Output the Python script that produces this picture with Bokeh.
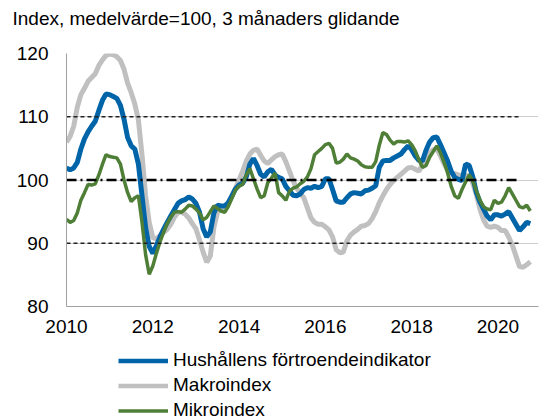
from bokeh.plotting import figure
from bokeh.layouts import column
from bokeh.models import Range1d, FixedTicker, Legend, LegendItem, Title
from bokeh.embed import file_html
from bokeh.resources import INLINE

title_text = "Index, medelvärde=100, 3 månaders glidande"
start_year = 2010
x_ticks = [2010, 2012, 2014, 2016, 2018, 2020]
y_ticks = [80, 90, 100, 110, 120]

hushall = [101.9, 101.6, 101.9, 102.8, 104.9, 106.5, 107.6, 108.5, 109.3, 111.0,
           112.6, 113.6, 113.5, 113.2, 112.9, 111.8, 109.6, 106.7, 105.4, 104.9,
           102.5, 97.5, 92.5, 89.5, 88.4, 89.6, 91.0, 92.2, 93.3, 94.3,
           95.3, 96.3, 96.7, 96.9, 97.3, 97.0, 96.3, 94.9, 92.3, 91.0,
           91.8, 94.8, 96.0, 95.9, 95.9, 96.4, 97.5, 98.6, 99.2, 99.5,
           100.5, 102.5, 103.4, 102.3, 100.9, 100.5, 101.3, 101.7, 100.8, 100.4,
           100.2, 99.0, 98.3, 97.6, 97.5, 97.8, 98.5, 98.8, 98.7, 99.0,
           98.8, 99.0, 100.2, 100.2, 98.5, 96.7, 96.5, 96.5, 97.2, 97.8,
           98.0, 97.9, 97.8, 98.3, 98.4, 98.7, 99.1, 102.0, 103.0, 103.1,
           103.1, 103.5, 103.8, 104.1, 104.8, 105.4, 104.8, 103.8, 103.1, 103.0,
           104.7, 106.0, 106.7, 106.8, 105.6, 104.3, 103.0, 101.4, 100.4, 100.1,
           99.9, 102.5, 102.3, 100.5, 98.0, 96.5, 95.4, 94.3, 93.7, 94.5,
           94.5, 94.3, 94.6, 95.0, 94.0, 93.0, 92.0, 92.6, 93.3, 93.1]

makro = [106.0, 106.9, 108.5, 111.5, 113.5, 114.5, 115.6, 116.2, 116.8, 118.1,
         119.0, 119.7, 119.9, 119.8, 119.5, 118.9, 117.5, 115.3, 113.8, 112.0,
         109.5, 104.0, 97.5, 93.3, 90.9, 90.7, 91.2, 91.7, 92.2, 93.0,
         94.1, 94.9, 94.9, 94.6, 94.0, 93.1, 92.3, 90.5, 88.6, 87.0,
         88.0, 92.5, 94.9, 95.3, 95.7, 96.4, 97.5, 98.7, 100.0, 101.4,
         103.0, 104.1, 104.7, 104.9, 103.9, 103.0, 102.6, 103.2, 103.7, 104.0,
         104.1, 102.9, 101.4, 99.9, 98.7, 98.0, 97.2, 95.6, 94.0, 93.3,
         93.0, 93.0, 92.6, 92.1, 91.0, 89.0, 88.5, 88.6, 90.4, 91.3,
         91.8, 92.2, 92.7, 92.8, 93.1, 93.9, 95.0, 96.4, 97.5, 98.5,
         99.3, 99.9, 100.4, 100.9, 101.4, 101.9, 102.0, 101.7, 101.4, 102.4,
         103.6, 104.3, 104.8, 104.9, 103.8, 102.6, 101.6, 101.1, 101.0, 100.8,
         100.7, 100.7, 100.7, 99.5, 97.7, 95.4, 93.7, 92.7, 92.5, 92.7,
         92.5, 92.0, 92.0, 91.0, 89.7, 88.0, 86.3, 86.2, 86.6, 87.1]

mikro = [93.8, 93.3, 93.6, 94.8, 96.8, 98.0, 99.3, 99.2, 99.4, 100.8,
         102.5, 104.0, 103.7, 103.6, 103.5, 102.5, 100.0, 98.0, 96.6, 97.2,
         97.5, 93.3, 88.2, 85.1, 86.4, 88.4, 90.2, 91.7, 93.1, 94.1,
         94.9, 95.0, 94.9, 95.4, 96.0, 95.9, 95.4, 94.8, 93.7, 94.1,
         95.0, 95.9, 95.5, 95.1, 94.9, 95.8, 97.1, 98.4, 99.0, 99.3,
         100.8, 101.8, 100.2, 98.6, 97.2, 97.5, 99.6, 100.3, 101.1, 98.0,
         97.5, 96.8, 98.2, 98.7, 98.9, 99.4, 99.8, 100.5, 101.8, 104.0,
         104.5, 105.0, 105.6, 105.8, 105.0, 102.7, 102.8, 103.3, 104.1, 103.5,
         103.3, 103.0, 102.4, 102.1, 102.0, 102.0, 102.9, 105.5, 107.5, 107.2,
         106.3, 105.7, 106.1, 106.1, 106.0, 106.2, 105.6, 104.6, 103.2, 102.0,
         102.3, 103.6, 104.5, 105.4, 104.3, 102.8, 101.1, 99.0, 97.5, 97.1,
         98.5, 99.7, 100.8, 99.9, 98.3, 96.8, 95.8, 95.4, 95.3, 96.8,
         96.3, 96.5, 97.5, 98.8, 97.8, 96.8, 95.8, 95.6, 96.0, 95.1]

series_names = ["Hushållens förtroendeindikator", "Makroindex", "Mikroindex"]
ref_levels = [90, 100, 110]
ref_end = 2020.5

months = [start_year + i / 12 for i in range(len(hushall))]

FONT = "Liberation Sans"
FS = "19px"
C_BLUE, C_GREY, C_GREEN = "#0064a8", "#c0c0c0", "#4f7f37"


def blank_panel(height):
    f = figure(width=548, height=height, output_backend="svg", toolbar_location=None,
               x_range=Range1d(0, 1), y_range=Range1d(0, 1),
               x_axis_location=None, y_axis_location=None, min_border=0)
    f.outline_line_color = None
    f.xgrid.visible = False
    f.ygrid.visible = False
    return f


# title strip
pt = blank_panel(41)
pt.title = Title(text=title_text, align="left", offset=-54, vertical_align="top",
                 text_font=FONT, text_font_size=FS,
                 text_font_style="normal", text_color="#000000", standoff=15)

# main chart
p = figure(width=548, height=304, output_backend="svg", toolbar_location=None,
           x_range=Range1d(2010, 2020.94), y_range=Range1d(80, 120),
           min_border_left=66, min_border_right=10, min_border_top=12,
           min_border_bottom=39)
p.outline_line_color = None
p.background_fill_color = "white"

for ax in (p.xaxis[0], p.yaxis[0]):
    ax.major_tick_line_color = None
    ax.minor_tick_line_color = None
    ax.major_tick_out = 0
    ax.major_tick_in = 0
    ax.minor_tick_out = 0
    ax.minor_tick_in = 0
    ax.axis_label_standoff = 0
    ax.axis_line_color = "#a0a0a0"
    ax.axis_line_width = 1
    ax.major_label_text_font = FONT
    ax.major_label_text_font_size = FS
    ax.major_label_text_color = "#000000"
p.xaxis.ticker = FixedTicker(ticks=x_ticks)
p.yaxis.ticker = FixedTicker(ticks=y_ticks)
p.xaxis.major_label_standoff = 13
p.yaxis.major_label_standoff = 18
p.xgrid.visible = False
p.ygrid.grid_line_color = "#cfcfcf"
p.ygrid.grid_line_width = 1

p.line(months, makro, line_color=C_GREY, line_width=5)
p.line(months, hushall, line_color=C_BLUE, line_width=5)
p.line(months, mikro, line_color=C_GREEN, line_width=3.5)

for lv in ref_levels:
    if lv == 100:
        p.line([start_year, ref_end], [lv, lv], line_color="black", line_width=2.5,
               line_dash="10 4 2 4")
    else:
        p.line([start_year, ref_end], [lv, lv], line_color="#222222", line_width=1.5,
               line_dash="4 3")

# legend strip below the chart
pl = blank_panel(71)
lr_h = pl.line(months[:1], hushall[:1], line_color=C_BLUE, line_width=4.5)
lr_m = pl.line(months[:1], makro[:1], line_color=C_GREY, line_width=4.5)
lr_k = pl.line(months[:1], mikro[:1], line_color=C_GREEN, line_width=3.5)

legend = Legend(items=[
    LegendItem(label=series_names[0], renderers=[lr_h]),
    LegendItem(label=series_names[1], renderers=[lr_m]),
    LegendItem(label=series_names[2], renderers=[lr_k]),
], location=(52, -5), orientation="vertical",
    glyph_width=50, glyph_height=21, label_height=21, spacing=3,
    label_standoff=5, padding=0, margin=0,
    label_text_font=FONT, label_text_font_size=FS, label_text_color="#000000",
    border_line_color=None, background_fill_alpha=0)
pl.add_layout(legend, "center")

layout = column(pt, p, pl, spacing=0)
open("out.html", "w").write(file_html(layout, INLINE))
